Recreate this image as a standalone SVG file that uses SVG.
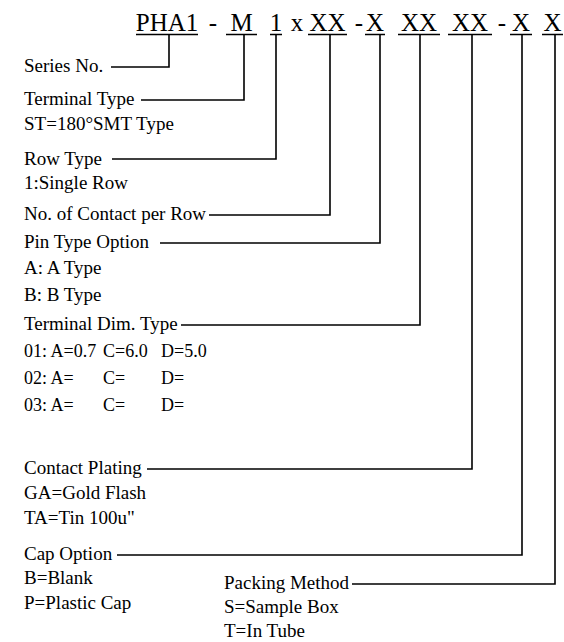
<svg xmlns="http://www.w3.org/2000/svg" width="564" height="642" viewBox="0 0 564 642">
<style>
text{font-family:"Liberation Serif","Times New Roman",serif;fill:#000}
.code{font-size:25px;text-anchor:middle}
.lbl{font-size:19px}
.sm{font-size:18px}
.ln{stroke:#000;stroke-width:1.6;fill:none}
</style>
<rect width="564" height="642" fill="#fff"/>
<g id="code">
<text class="code" x="167" y="31">PHA1</text>
<text class="code" x="213" y="31">-</text>
<text class="code" x="241.5" y="31">M</text>
<text class="code" x="276" y="31">1</text>
<text class="code" x="297" y="31">x</text>
<text class="code" x="327.5" y="31">XX</text>
<text class="code" x="359" y="31">-</text>
<text class="code" x="375" y="31">X</text>
<text class="code" x="419" y="31">XX</text>
<text class="code" x="470" y="31">XX</text>
<text class="code" x="502" y="31">-</text>
<text class="code" x="521" y="31">X</text>
<text class="code" x="552.5" y="31">X</text>
</g>
<g id="series"><text class="lbl" x="24" y="72">Series No.</text></g>
<g id="terminal"><text class="lbl" x="24" y="105">Terminal Type</text><text class="lbl" x="24" y="130">ST=180°SMT Type</text></g>
<g id="row"><text class="lbl" x="24" y="165">Row Type</text><text class="lbl" x="24" y="189">1:Single Row</text></g>
<g id="contacts"><text class="lbl" x="24" y="220">No. of Contact per Row</text></g>
<g id="pin"><text class="lbl" x="24" y="248">Pin Type Option</text><text class="lbl" x="24" y="274">A: A Type</text><text class="lbl" x="24" y="301">B: B Type</text></g>
<g id="dim"><text class="lbl" x="24" y="330">Terminal Dim. Type</text>
<text class="sm" y="357"><tspan x="24">01: A=0.7</tspan><tspan x="103">C=6.0</tspan><tspan x="161">D=5.0</tspan></text>
<text class="sm" y="384"><tspan x="24">02: A=</tspan><tspan x="103">C=</tspan><tspan x="161">D=</tspan></text>
<text class="sm" y="411"><tspan x="24">03: A=</tspan><tspan x="103">C=</tspan><tspan x="161">D=</tspan></text></g>
<g id="plating"><text class="lbl" x="24" y="474">Contact Plating</text><text class="lbl" x="24" y="499">GA=Gold Flash</text><text class="lbl" x="24" y="524">TA=Tin 100u"</text></g>
<g id="cap"><text class="lbl" x="24" y="560">Cap Option</text><text class="lbl" x="24" y="584">B=Blank</text><text class="lbl" x="24" y="609">P=Plastic Cap</text></g>
<g id="packing"><text class="lbl" x="224" y="589">Packing Method</text><text class="lbl" x="224" y="613">S=Sample Box</text><text class="lbl" x="224" y="637">T=In Tube</text></g>
<g id="connectors">
<path class="ln" d="M136 34.5H198M226 34.5H257M270 34.5H282M308 34.5H347M365 34.5H385M398 34.5H440M448 34.5H492M510 34.5H532M542 34.5H563"/>
<path class="ln" d="M111 67H169V34.5"/>
<path class="ln" d="M141 100H244V34.5"/>
<path class="ln" d="M112 159H276V34.5"/>
<path class="ln" d="M209 215H330V34.5"/>
<path class="ln" d="M160 243H380V34.5"/>
<path class="ln" d="M181 325H420V34.5"/>
<path class="ln" d="M147 469H472V34.5"/>
<path class="ln" d="M117 555H522V34.5"/>
<path class="ln" d="M352 584H555V34.5"/>
</g>
</svg>
